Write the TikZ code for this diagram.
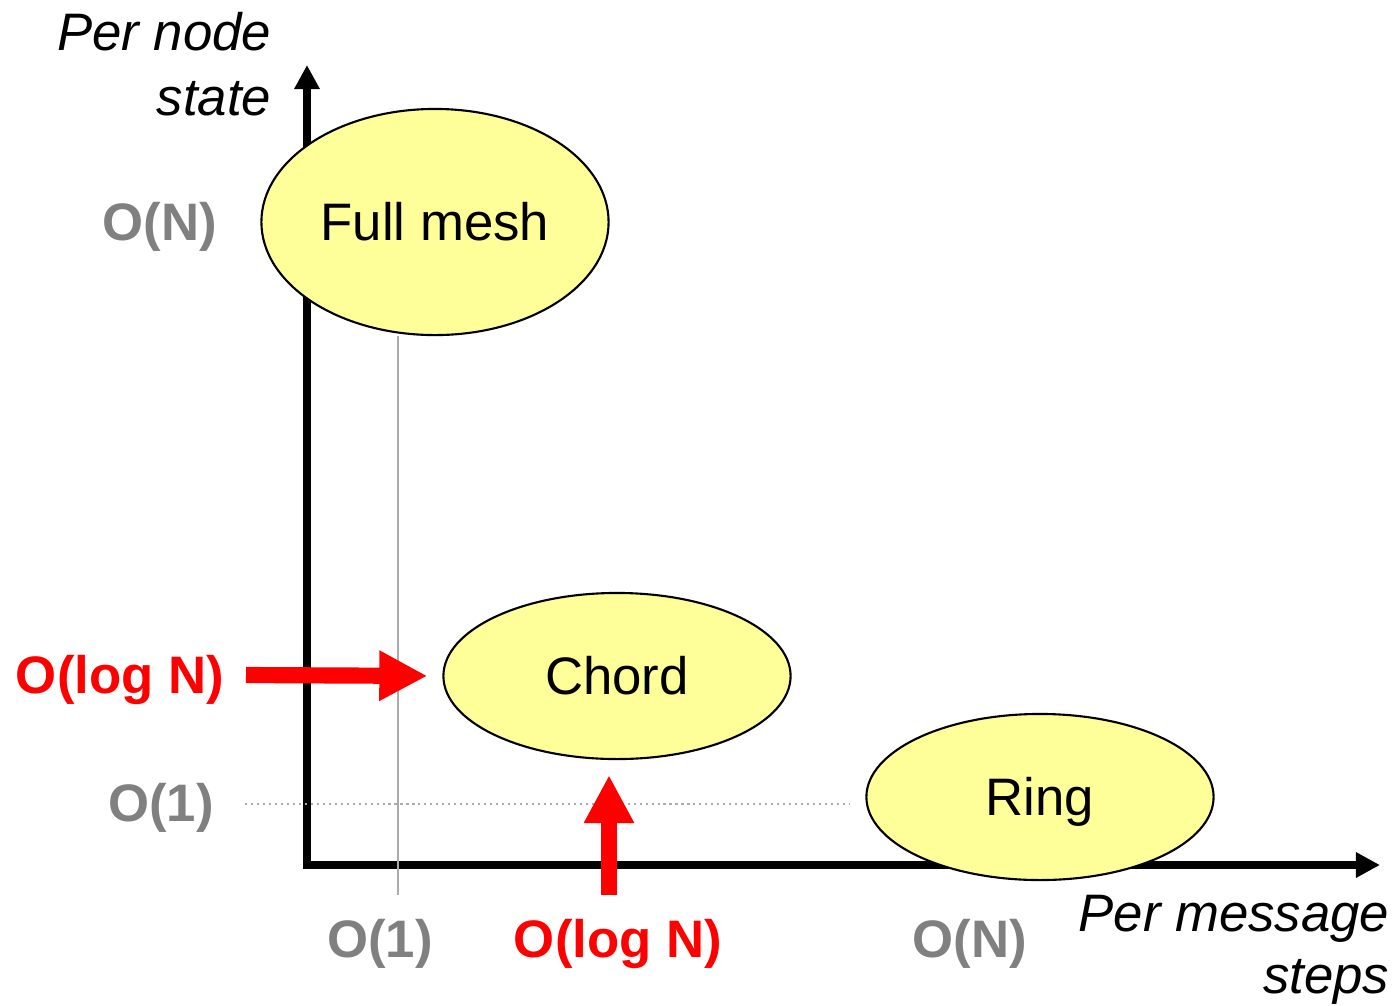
\documentclass[tikz,border=0pt]{standalone}
\usepackage{fontspec}
\setmainfont{Liberation Sans}
\usetikzlibrary{arrows.meta, shapes.geometric, backgrounds}
\definecolor{bubble}{HTML}{FFFF99}
\definecolor{labelgrey}{HTML}{808080}
\definecolor{guidegrey}{HTML}{ABABAB}
\tikzset{
  scheme/.style={ellipse, draw=black, line width=0.6pt, fill=bubble, inner sep=0pt,
    minimum width=3.47cm, minimum height=#1, text height=10.7pt, text depth=0pt,
    font=\fontsize{15}{18}\selectfont},
  scheme/.default={1.66cm},
  cost/.style={anchor=base, text=labelgrey, font=\fontsize{15}{18}\selectfont\bfseries},
  logcost/.style={cost, text=red},
  axistitle/.style={anchor=base east, inner sep=0pt, font=\fontsize{15}{18}\selectfont\itshape},
  axis/.style={line width=2pt, line join=miter,
    {Triangle[length=2.4mm, width=2.4mm]}-{Triangle[length=2.4mm, width=2.4mm]}},
  guide/.style={draw=guidegrey, line width=0.6pt},
  fatarrow/.style={draw=red, line width=4.6pt, -{Triangle[length=4.8mm, width=4.7mm]}, shorten >=1.5mm}
}

\begin{document}
\begin{tikzpicture}[x=0.01cm, y=-0.01cm]
    \useasboundingbox (0,0) rectangle (1399,1005);

    \coordinate (origin) at (307,865);
    \coordinate (ytop) at (307,65);
    \coordinate (xend) at (1380,865);

    % the three designs
    \node [scheme=2.26cm] (fullmesh) at (435,222) {Full mesh};
    \node [scheme] (chord) at (617,676) {Chord};
    \node [scheme] (ring) at (1040,797) {Ring};

    % axis titles
    \node [axistitle] (statea) at (272,50) {Per node};
    \node [axistitle] (stateb) at (272,115) {state};
    \node [axistitle] (stepsa) at (1390,931) {Per message};
    \node [axistitle] (stepsb) at (1390,993) {steps};

    % tick labels
    \node [cost] (yn) at (160,240) {O(N)};
    \node [logcost] (ylog) at (120,693) {O(log N)};
    \node [cost] (yone) at (161,821) {O(1)};
    \node [cost] (xone) at (380,957) {O(1)};
    \node [logcost] (xlog) at (618,957) {O(log N)};
    \node [cost] (xn) at (970,957) {O(N)};

    \coordinate (onex) at (398,895);
    \coordinate (oney) at (245,804);
    \coordinate (oneyend) at (850,804);

    \begin{scope}[on background layer]
    \draw [axis] (ytop) -- (origin) -- (xend);
    \path [guide] (onex) edge (onex |- fullmesh.south);
    \path [guide, dash pattern=on 0.6pt off 1.1pt] (oney) edge (oneyend);
    \end{scope}

    \coordinate (logy) at (246,675);
    \coordinate (logx) at (609,895);
    \draw [fatarrow] (logy) -- (chord.west);
    \draw [fatarrow] (logx) -- (logx |- chord.south);

\end{tikzpicture}
\end{document}
